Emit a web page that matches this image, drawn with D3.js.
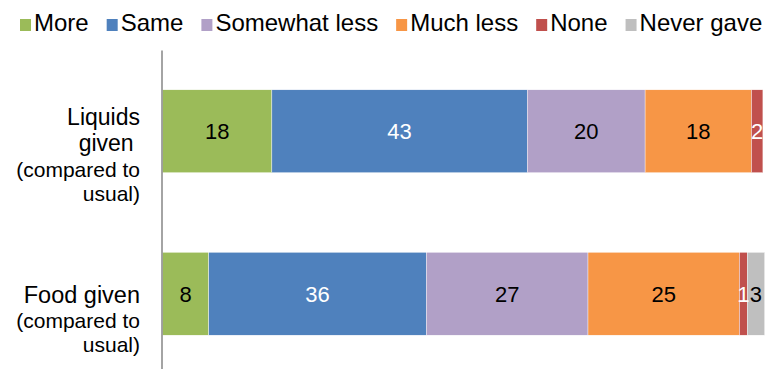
<!DOCTYPE html>
<html>
<head>
<meta charset="utf-8">
<script src="https://cdn.jsdelivr.net/npm/d3@7"></script>
<style>
  html, body { margin: 0; padding: 0; background: #fff; }
  svg { display: block; font-family: "Liberation Sans", Arial, sans-serif; }
</style>
</head>
<body>
<svg id="chart" width="769" height="369"></svg>
<script>
// ---- data ----
const categories = ["Liquids", "Food"];
const categoryLabels = [
  ["Liquids", "given ", "(compared to", "usual)"],
  ["Food given", "(compared to", "usual)"]
];
const seriesNames = ["More", "Same", "Somewhat less", "Much less", "None", "Never gave"];
const seriesColors = ["#9BBB59", "#4F81BD", "#B1A0C7", "#F79646", "#C0504D", "#BFBFBF"];
const labelColors = ["#000", "#fff", "#000", "#000", "#fff", "#000"];
// measured segment widths (percent) per category
const liquidsValues = [18.2, 42.5, 19.6, 17.7, 1.9, 0];
const foodValues = [7.7, 36.2, 26.9, 25.2, 1.3, 2.9];
// printed labels
const liquidsLabels = ["18", "43", "20", "18", "2", ""];
const foodLabels = ["8", "36", "27", "25", "1", "3"];

const valuesByCat = [liquidsValues, foodValues];
const labelsByCat = [liquidsLabels, foodLabels];

const svg = d3.select("#chart");
const x = d3.scaleLinear().domain([0, 100]).range([162.5, 763.5]);
const y = d3.scaleBand().domain(categories).range([50, 375]).paddingInner(0.49).paddingOuter(0.245);

// stacked segments
const rows = categories.map((c, i) => {
  let acc = 0;
  return valuesByCat[i].map((v, j) => {
    const seg = { cat: c, x0: acc, x1: acc + v, color: seriesColors[j], label: labelsByCat[i][j], lc: labelColors[j], v };
    acc += v;
    return seg;
  });
}).flat().filter(d => d.v > 0);

const g = svg.append("g");
g.selectAll("rect.seg").data(rows).join("rect")
  .attr("class", "seg")
  .attr("x", d => x(d.x0))
  .attr("y", d => y(d.cat))
  .attr("width", d => x(d.x1) - x(d.x0))
  .attr("height", y.bandwidth())
  .attr("fill", d => d.color)
  .attr("stroke", "#fff")
  .attr("stroke-width", 0.4);

g.selectAll("text.val").data(rows.filter(d => d.label)).join("text")
  .attr("class", "val")
  .attr("x", d => (x(d.x0) + x(d.x1)) / 2)
  .attr("y", d => y(d.cat) + y.bandwidth() / 2)
  .attr("dy", "0.36em")
  .attr("text-anchor", "middle")
  .attr("font-size", 22)
  .attr("fill", d => d.lc)
  .text(d => d.label);

// axis
const axis = svg.append("g")
  .attr("transform", `translate(${x(0) - 0.5},0)`)
  .call(d3.axisLeft(y).tickSize(0).tickFormat(""));
axis.select(".domain").attr("stroke", "#868686").attr("stroke-width", 1.5).attr("d", "M0,50.5V375");

// category labels
const lineOffsets = [
  [35, 61, 87, 111],
  [51, 76, 100]
];
const lineSizes = [
  [23, 23, 21, 21],
  [23.5, 21, 21]
];
categories.forEach((c, i) => {
  const t = svg.append("text")
    .attr("text-anchor", "end")
    .attr("fill", "#000")
    .style("white-space", "pre");
  categoryLabels[i].forEach((line, k) => {
    t.append("tspan")
      .attr("x", 140)
      .attr("y", y(c) + lineOffsets[i][k])
      .attr("font-size", lineSizes[i][k])
      .text(line);
  });
});

// legend
const legend = svg.append("g");
let lx = 20;
seriesNames.forEach((name, j) => {
  const item = legend.append("g");
  item.append("rect").attr("x", lx).attr("y", 19).attr("width", 11).attr("height", 12).attr("fill", seriesColors[j]);
  const t = item.append("text").attr("x", lx + 14).attr("y", 31).attr("font-size", 24).attr("fill", "#000").text(name);
  lx += 14 + t.node().getComputedTextLength() + 18;
});
</script>
</body>
</html>
